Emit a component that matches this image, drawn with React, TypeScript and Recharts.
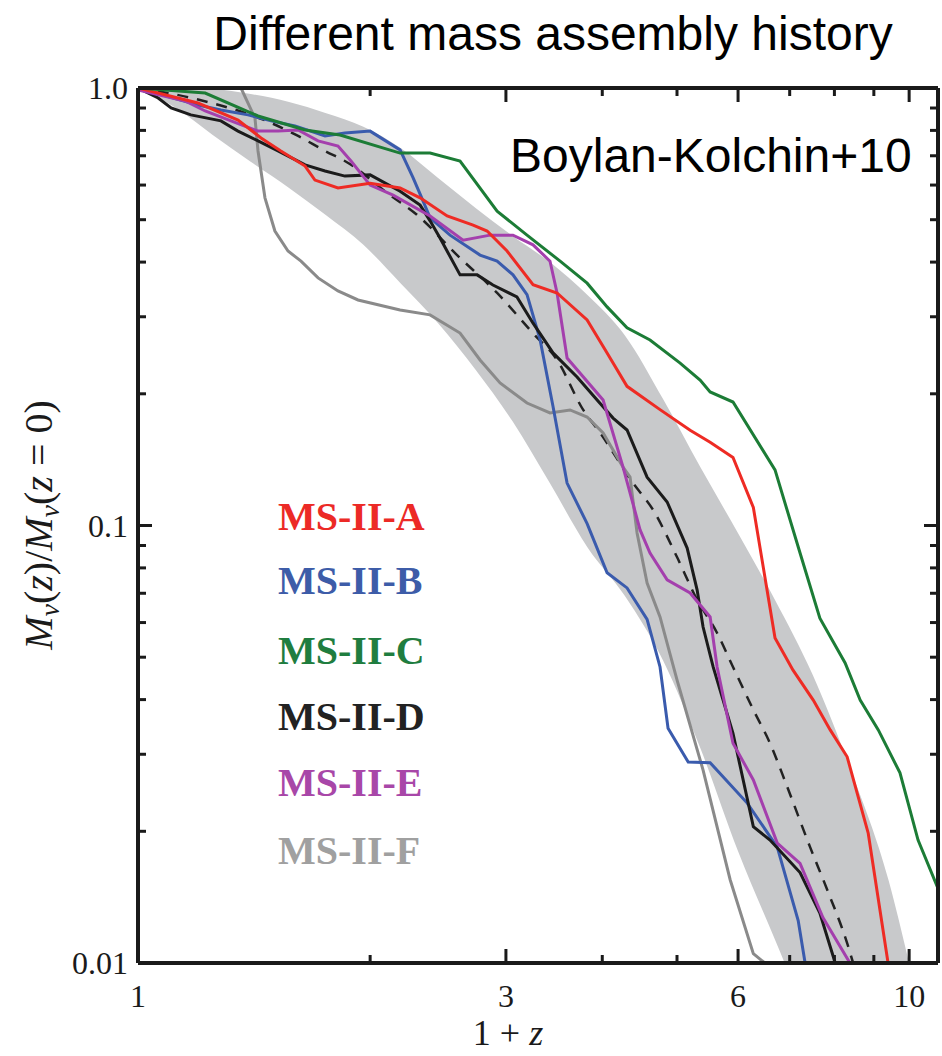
import React from 'react';
import { ComposedChart, Line, Area, XAxis, YAxis } from 'recharts';

// 1+z tick positions (log axis) and which get a number
const xTicks = [1, 2, 3, 4, 5, 6, 7, 8, 9, 10];
const xLabelled = [1, 3, 6, 10];
const yTicks = [
  0.01, 0.02, 0.03, 0.04, 0.05, 0.06, 0.07, 0.08, 0.09, 0.1, 0.2, 0.3, 0.4, 0.5, 0.6, 0.7, 0.8,
  0.9, 1,
];
const yLabels: Record<string, string> = { '0.01': '0.01', '0.1': '0.1', '1': '1.0' };

// grey scatter band (Boylan-Kolchin+10 fit)
const bandZ = [1.0, 1.12, 1.25, 1.4, 1.57, 1.75, 1.96, 2.19, 2.45, 2.74, 3.06, 3.42, 3.83, 4.28, 4.8, 5.36, 6.0, 6.7, 7.5, 8.4, 9.4, 10.0];
const bandHigh = [1.0, 1.0, 0.995, 0.969, 0.929, 0.877, 0.815, 0.729, 0.623, 0.532, 0.459, 0.4, 0.336, 0.272, 0.194, 0.136, 0.096, 0.0676, 0.0455, 0.0276, 0.0155, 0.01];
const bandLow = [1.0, 0.9, 0.781, 0.678, 0.591, 0.513, 0.438, 0.358, 0.29, 0.227, 0.173, 0.125, 0.089, 0.069, 0.049, 0.031, 0.018, 0.0113, 0.007, 0.0044, 0.0027, 0.002];

// mean track (dashed)
const meanTrack = [
  [1.0, 1.0], [1.203, 0.939], [1.488, 0.832], [1.613, 0.777], [1.748, 0.718], [1.873, 0.674],
  [2.122, 0.569], [2.3, 0.513], [2.593, 0.415], [2.922, 0.34], [3.253, 0.275], [3.495, 0.239],
  [3.777, 0.184], [3.973, 0.163], [4.385, 0.125], [4.656, 0.1085], [5.0, 0.0847], [5.31, 0.0676],
  [5.636, 0.0568], [5.91, 0.0475], [6.28, 0.0379], [6.6, 0.0318], [6.947, 0.0253], [7.44, 0.0184],
  [7.83, 0.0147], [8.31, 0.0111], [8.46, 0.01],
];

const msA = [
  [1.0, 1.0], [1.196, 0.924], [1.348, 0.845], [1.444, 0.769], [1.532, 0.718], [1.647, 0.663],
  [1.696, 0.616], [1.817, 0.591], [2.0, 0.606], [2.187, 0.591], [2.322, 0.561], [2.517, 0.51],
  [2.72, 0.486], [2.836, 0.471], [3.01, 0.424], [3.253, 0.355], [3.495, 0.34], [3.823, 0.295],
  [4.058, 0.248], [4.307, 0.208], [4.753, 0.184], [5.2, 0.165], [5.52, 0.155], [5.91, 0.143],
  [6.28, 0.11], [6.7, 0.0553], [7.07, 0.0467], [7.51, 0.0399], [7.9, 0.0341], [8.31, 0.0296],
  [8.85, 0.0198], [9.39, 0.01],
];
const msB = [
  [1.0, 1.0], [1.196, 0.914], [1.281, 0.891], [1.389, 0.868], [1.488, 0.841], [1.598, 0.819],
  [1.748, 0.777], [1.855, 0.789], [2.0, 0.797], [2.187, 0.722], [2.274, 0.623], [2.342, 0.552],
  [2.392, 0.505], [2.539, 0.461], [2.777, 0.415], [2.922, 0.402], [3.064, 0.374], [3.195, 0.337],
  [3.322, 0.266], [3.453, 0.187], [3.601, 0.125], [3.823, 0.101], [4.058, 0.078], [4.307, 0.072],
  [4.573, 0.061], [4.753, 0.0475], [4.868, 0.0344], [5.17, 0.0288], [5.52, 0.0287], [6.166, 0.0232],
  [6.745, 0.0184], [7.18, 0.0125], [7.33, 0.01],
];
const msC = [
  [1.0, 1.0], [1.222, 0.974], [1.431, 0.863], [1.647, 0.802], [1.828, 0.781], [2.187, 0.71],
  [2.392, 0.71], [2.616, 0.681], [2.922, 0.523], [3.195, 0.461], [3.527, 0.402], [3.823, 0.358],
  [4.058, 0.316], [4.307, 0.283], [4.613, 0.2655], [5.047, 0.235], [5.357, 0.215], [5.52, 0.202],
  [5.91, 0.1915], [6.7, 0.134], [7.22, 0.0865], [7.66, 0.0614], [8.26, 0.0485], [8.64, 0.0399],
  [9.12, 0.0341], [9.73, 0.0272], [10.27, 0.0191], [10.9, 0.0148],
];
const msD = [
  [1.0, 1.0], [1.062, 0.949], [1.104, 0.9], [1.171, 0.868], [1.281, 0.841], [1.348, 0.797],
  [1.431, 0.757], [1.519, 0.718], [1.647, 0.667], [1.748, 0.646], [1.855, 0.629], [2.0, 0.633],
  [2.187, 0.581], [2.322, 0.54], [2.392, 0.497], [2.464, 0.454], [2.616, 0.374], [2.753, 0.374],
  [2.886, 0.3545], [3.1, 0.333], [3.253, 0.29], [3.453, 0.248], [3.71, 0.2185], [3.939, 0.1936],
  [4.131, 0.176], [4.307, 0.1653], [4.573, 0.129], [4.855, 0.1132], [5.154, 0.0888], [5.31, 0.0712],
  [5.405, 0.0586], [5.57, 0.0475], [5.91, 0.0335], [6.28, 0.0205], [6.6, 0.0191], [7.22, 0.0161],
  [7.66, 0.013], [8.02, 0.01],
];
const msE = [
  [1.0, 0.99], [1.151, 0.934], [1.222, 0.886], [1.32, 0.841], [1.431, 0.797], [1.519, 0.797],
  [1.613, 0.802], [1.712, 0.757], [1.817, 0.737], [1.889, 0.681], [2.0, 0.6], [2.142, 0.569],
  [2.392, 0.51], [2.64, 0.449], [2.861, 0.461], [3.064, 0.461], [3.253, 0.438], [3.422, 0.402],
  [3.495, 0.34], [3.601, 0.2415], [4.01, 0.1936], [4.256, 0.136], [4.478, 0.0977], [4.613, 0.0865],
  [4.855, 0.0751], [5.2, 0.0701], [5.52, 0.0618], [5.636, 0.0475], [5.91, 0.0318], [6.28, 0.0262],
  [6.745, 0.0188], [7.22, 0.0169], [7.73, 0.0127], [8.38, 0.01],
];
const msF = [
  [1.36, 1.0], [1.418, 0.854], [1.431, 0.718], [1.461, 0.561], [1.505, 0.471], [1.565, 0.424],
  [1.627, 0.402], [1.712, 0.368], [1.817, 0.3436], [1.929, 0.3277], [2.187, 0.311], [2.392, 0.303],
  [2.616, 0.2754], [2.777, 0.239], [2.948, 0.2117], [3.195, 0.1905], [3.422, 0.1808], [3.633, 0.1837],
  [3.823, 0.177], [4.01, 0.1627], [4.256, 0.136], [4.346, 0.129], [4.438, 0.0961], [4.573, 0.0739],
  [4.753, 0.0618], [5.0, 0.0444], [5.405, 0.0276], [5.86, 0.0155], [6.28, 0.0105], [6.5, 0.01],
];

const legendNames = ['MS-II-A', 'MS-II-B', 'MS-II-C', 'MS-II-D', 'MS-II-E', 'MS-II-F'];
const lineColors = ['#ee2b24', '#3a5bad', '#1c7c36', '#1b1b1b', '#a43fad', '#8a8a8a'];
const legendColors = ['#ec2a26', '#3d5ca8', '#1f7d3f', '#222222', '#a847a8', '#a0a0a0'];
const legendY = [530, 594, 664, 730, 796, 864];
const allSeries = [msA, msB, msC, msD, msE, msF];
// draw order: grey, blue, black, purple, red, green
const drawOrder = [5, 1, 3, 4, 0, 2];

const band = bandZ.map((z, i) => ({ z, range: [bandLow[i], bandHigh[i]] }));
const toPoints = (s: number[][]) => s.map(([z, m]) => ({ z, m }));

const ink = '#1a1a1a';
const serif = '"Liberation Serif", "DejaVu Serif", serif';
const sans = '"Liberation Sans", Arial, sans-serif';

const BottomTick = (props: any) => {
  const { x, y, payload } = props;
  const v = payload.value;
  const major = xLabelled.includes(v);
  return (
    <g>
      <line x1={x} x2={x} y1={y} y2={y - (major ? 14 : 8)} stroke={ink} strokeWidth={3} />
      {major && (
        <text x={x} y={y + 44} textAnchor="middle" fontFamily={serif} fontSize={32} fill={ink}>
          {v}
        </text>
      )}
    </g>
  );
};

const TopTick = (props: any) => {
  const { x, y, payload } = props;
  const major = xLabelled.includes(payload.value);
  return <line x1={x} x2={x} y1={y} y2={y + (major ? 14 : 8)} stroke={ink} strokeWidth={3} />;
};

const LeftTick = (props: any) => {
  const { x, y, payload } = props;
  const label = yLabels[String(payload.value)];
  return (
    <g>
      <line x1={x} x2={x + (label ? 14 : 8)} y1={y} y2={y} stroke={ink} strokeWidth={3} />
      {label && (
        <text x={x - 10} y={y + 11} textAnchor="end" fontFamily={serif} fontSize={32} fill={ink}>
          {label}
        </text>
      )}
    </g>
  );
};

const RightTick = (props: any) => {
  const { x, y, payload } = props;
  const label = yLabels[String(payload.value)];
  return <line x1={x} x2={x - (label ? 14 : 8)} y1={y} y2={y} stroke={ink} strokeWidth={3} />;
};

const axisLine = { stroke: ink, strokeWidth: 4 };

export default function App() {
  return (
    <div style={{ position: 'absolute', left: 0, top: 0, width: 942, height: 1056, background: '#fff' }}>
      <ComposedChart
        width={942}
        height={1056}
        data={band}
        margin={{ top: 87, right: 3, bottom: 63, left: 78 }}
      >
        <XAxis
          dataKey="z"
          type="number"
          scale="log"
          domain={[1, 10.9]}
          allowDataOverflow
          ticks={xTicks}
          interval={0}
          height={30}
          tickSize={0}
          tickMargin={0}
          tickLine={false}
          axisLine={axisLine}
          tick={BottomTick}
        />
        <XAxis
          xAxisId="top"
          orientation="top"
          dataKey="z"
          type="number"
          scale="log"
          domain={[1, 10.9]}
          allowDataOverflow
          ticks={xTicks}
          interval={0}
          height={1}
          tickSize={0}
          tickMargin={0}
          tickLine={false}
          axisLine={axisLine}
          tick={TopTick}
        />
        <YAxis
          type="number"
          scale="log"
          domain={[0.01, 1]}
          allowDataOverflow
          ticks={yTicks}
          interval={0}
          width={60}
          tickSize={0}
          tickMargin={0}
          tickLine={false}
          axisLine={axisLine}
          tick={LeftTick}
        />
        <YAxis
          yAxisId="right"
          orientation="right"
          type="number"
          scale="log"
          domain={[0.01, 1]}
          allowDataOverflow
          ticks={yTicks}
          interval={0}
          width={1}
          tickSize={0}
          tickMargin={0}
          tickLine={false}
          axisLine={axisLine}
          tick={RightTick}
        />
        <Area
          dataKey="range"
          type="monotone"
          fill="#c8c9cb"
          fillOpacity={1}
          stroke="none"
          isAnimationActive={false}
        />
        <Line
          data={toPoints(meanTrack)}
          dataKey="m"
          type="monotone"
          stroke="#222"
          strokeWidth={2.5}
          strokeDasharray="11 9"
          dot={false}
          isAnimationActive={false}
        />
        {drawOrder.map((i) => (
          <Line
            key={legendNames[i]}
            data={toPoints(allSeries[i])}
            dataKey="m"
            type="linear"
            stroke={lineColors[i]}
            strokeWidth={3}
            dot={false}
            isAnimationActive={false}
          />
        ))}
        {/* keeps the mirrored top/right axes tied to a series */}
        <Line
          xAxisId="top"
          yAxisId="right"
          data={toPoints(msA)}
          dataKey="m"
          stroke="none"
          dot={false}
          legendType="none"
          isAnimationActive={false}
        />
      </ComposedChart>
      <svg
        width={942}
        height={1056}
        style={{ position: 'absolute', left: 0, top: 0, pointerEvents: 'none' }}
      >
        <text x={553} y={50} textAnchor="middle" fontFamily={sans} fontSize={48} fill="#000">
          Different mass assembly history
        </text>
        <text x={510} y={172} fontFamily={sans} fontSize={48} fill="#000">
          Boylan-Kolchin+10
        </text>
        {legendNames.map((name, i) => (
          <text
            key={name}
            x={278}
            y={legendY[i]}
            fontFamily={serif}
            fontWeight="bold"
            fontSize={40}
            fill={legendColors[i]}
          >
            {name}
          </text>
        ))}
        <text x={508} y={1045} textAnchor="middle" fontFamily={serif} fontSize={36} fill={ink}>
          1 + <tspan fontStyle="italic">z</tspan>
        </text>
        <text
          transform="translate(52,525) rotate(-90)"
          textAnchor="middle"
          fontFamily={serif}
          fontSize={40}
          fill={ink}
        >
          <tspan fontStyle="italic">M</tspan>
          <tspan fontStyle="italic" fontSize={28} dy={7}>v</tspan>
          <tspan dy={-7}>(</tspan>
          <tspan fontStyle="italic">z</tspan>
          <tspan>)/</tspan>
          <tspan fontStyle="italic">M</tspan>
          <tspan fontStyle="italic" fontSize={28} dy={7}>v</tspan>
          <tspan dy={-7}>(</tspan>
          <tspan fontStyle="italic">z</tspan>
          <tspan> = 0)</tspan>
        </text>
      </svg>
    </div>
  );
}
